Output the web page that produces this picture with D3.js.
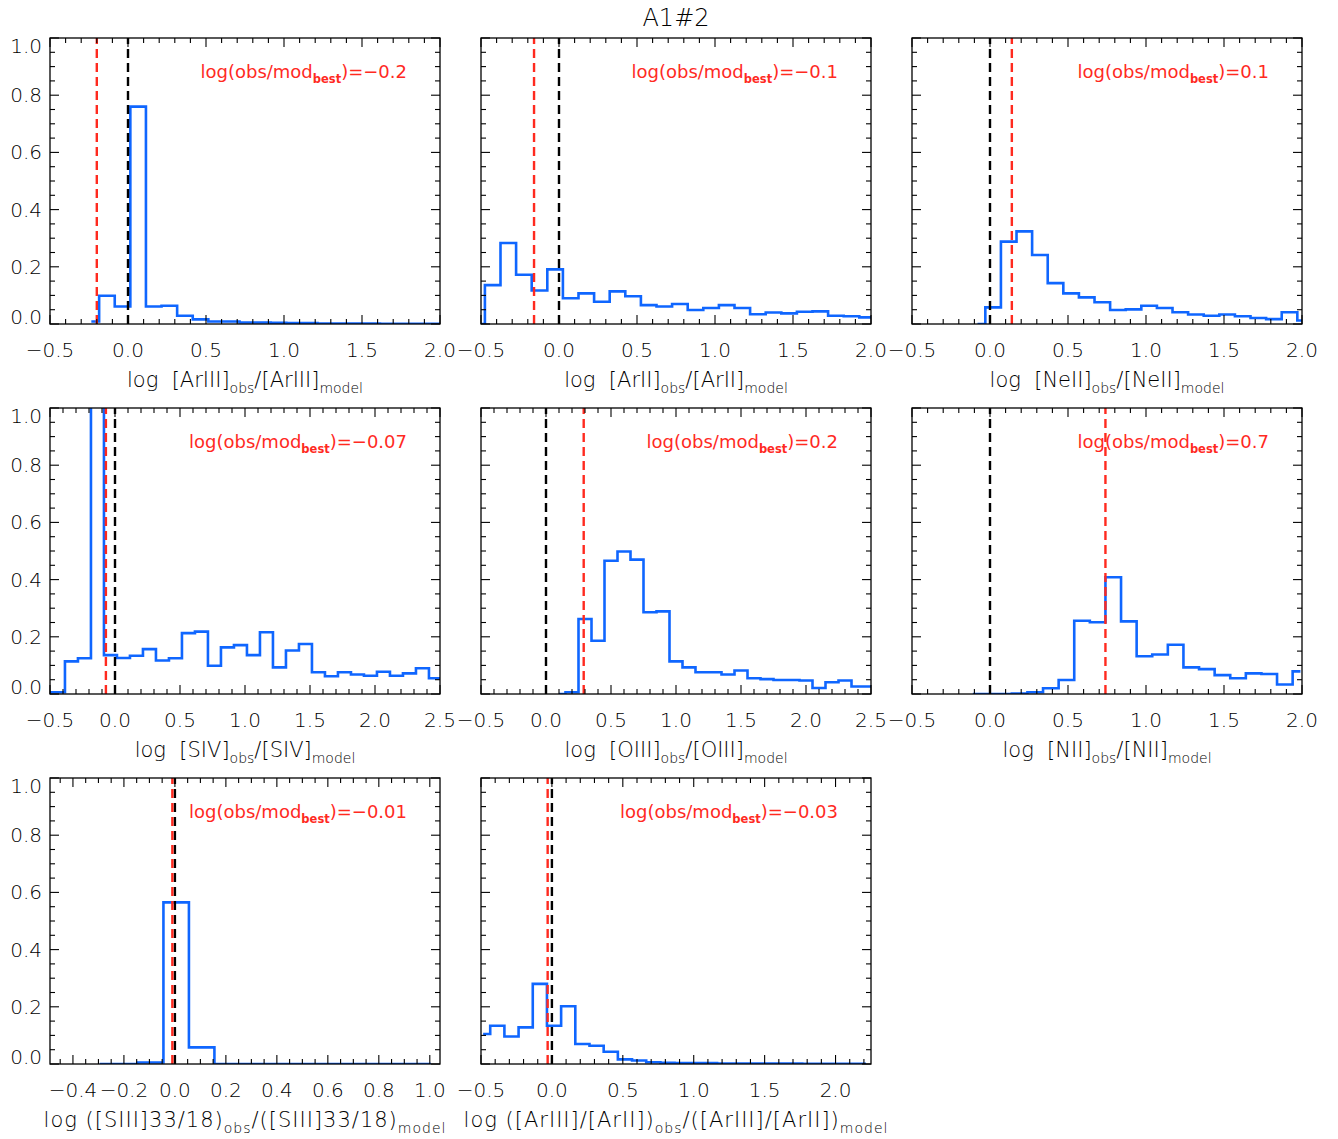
<!DOCTYPE html>
<html><head><meta charset="utf-8">
<script src="https://cdn.jsdelivr.net/npm/d3@7"></script>
<style>body{margin:0;background:#fff}</style>
</head><body><svg id="c" width="1338" height="1139"></svg>
<script>
// ---------------- data ----------------
const titleText = "A1#2";
const binWidth = 0.1;
const firstBinCentre = [-0.235, -0.525, -0.08, -0.535, 0.10, -0.11, -0.295, -0.485];

const histArIII = [0.009,0.099,0.061,0.760,0.061,0.064,0.029,0.016,0.009,0.009,0.005,0.005,0.004,0.003,0.003,0.002,0.002,0.002,0.002,0.001,0.001,0.001,0.001,0.001];
const histArII  = [0,0.136,0.283,0.172,0.117,0.191,0.090,0.107,0.078,0.114,0.097,0.066,0.061,0.070,0.049,0.056,0.066,0.056,0.034,0.040,0.037,0.043,0.044,0.029,0.027,0.023,0.023];
const histNeII  = [0,0.058,0.288,0.324,0.241,0.143,0.107,0.093,0.076,0.049,0.051,0.064,0.056,0.041,0.033,0.029,0.033,0.027,0.021,0.017,0.041,0.012];
const histSIV   = [0.006,0.006,0.114,0.125,1.4,0.136,0.126,0.134,0.157,0.117,0.125,0.213,0.218,0.099,0.163,0.171,0.136,0.216,0.093,0.152,0.175,0.076,0.062,0.076,0.068,0.064,0.078,0.064,0.072,0.090,0.055,0.055];
const histOIII  = [0,0.006,0.262,0.186,0.466,0.498,0.470,0.286,0.289,0.114,0.093,0.076,0.076,0.068,0.082,0.055,0.052,0.049,0.049,0.047,0.021,0.041,0.047,0.026,0.026];
const histNII   = [0,0,0,0.002,0.006,0.020,0.049,0.256,0.251,0.408,0.254,0.132,0.138,0.172,0.093,0.087,0.066,0.055,0.072,0.070,0.033,0.079];
const histSIII  = [0,0,0.005,0.565,0.058,0,0,0,0,0,0,0,0,0];
const histRatio = [0.105,0.134,0.096,0.128,0.280,0.134,0.202,0.070,0.064,0.043,0.016,0.012,0.006,0.004,0.003,0.003,0.003,0.002,0.002,0.002,0.002,0.002,0.002,0.001,0.001,0.001,0.001,0.001];
const histograms = [histArIII, histArII, histNeII, histSIV, histOIII, histNII, histSIII, histRatio];

const bestOffset = [-0.2, -0.16, 0.14, -0.07, 0.29, 0.74, -0.01, -0.03];
const bestLabel  = ["\u22120.2", "\u22120.1", "0.1", "\u22120.07", "0.2", "0.7", "\u22120.01", "\u22120.03"];

const xDomains = [[-0.5,2.0],[-0.5,2.0],[-0.5,2.0],[-0.5,2.5],[-0.5,2.5],[-0.5,2.0],[-0.49,1.04],[-0.5,2.25]];
const xMajorStep = [0.5,0.5,0.5,0.5,0.5,0.5,0.2,0.5];
const xMinorStep = [0.1,0.1,0.1,0.1,0.1,0.1,0.05,0.1];
const yTickValues = [0, 0.2, 0.4, 0.6, 0.8, 1.0];
const yMinorStep = 0.05;

const axisTitles = [
  [["log  [ArIII]",0],["obs",1],["/[ArIII]",0],["model",1]],
  [["log  [ArII]",0],["obs",1],["/[ArII]",0],["model",1]],
  [["log  [NeII]",0],["obs",1],["/[NeII]",0],["model",1]],
  [["log  [SIV]",0],["obs",1],["/[SIV]",0],["model",1]],
  [["log  [OIII]",0],["obs",1],["/[OIII]",0],["model",1]],
  [["log  [NII]",0],["obs",1],["/[NII]",0],["model",1]],
  [["log ([SIII]33/18)",0],["obs",1],["/([SIII]33/18)",0],["model",1]],
  [["log ([ArIII]/[ArII])",0],["obs",1],["/([ArIII]/[ArII])",0],["model",1]]
];
const titleSpacing = [0,0,0,0,0,0,1,1];

// ---------------- layout ----------------
const colX = [50, 481, 912];
const rowY = [38, 408, 778];
const PW = 390, PH = 286;
const BLUE = "#0f66ff", RED = "#ff2a1f";
const FONT = "'DejaVu Sans', 'Liberation Sans', sans-serif";

const svg = d3.select("#c");
svg.append("rect").attr("width",1338).attr("height",1139).attr("fill","#fff");

svg.append("text").attr("x", (colX[0] + colX[2] + PW) / 2).attr("y", 26)
  .attr("text-anchor","middle").attr("font-family",FONT).attr("font-size",24)
  .attr("font-weight",300).attr("fill","#000").text(titleText);

const fmtTick = d3.format(".1f");

function stepValues(domain, step) {
  const k0 = Math.ceil(domain[0]/step - 1e-6), k1 = Math.floor(domain[1]/step + 1e-6);
  return d3.range(k0, k1 + 1).map(k => +(k*step).toFixed(4));
}

histograms.forEach((hist, i) => {
  const col = i % 3, row = Math.floor(i / 3);
  const left = colX[col], top = rowY[row];
  const g = svg.append("g").attr("transform", `translate(${left},${top})`);
  const x = d3.scaleLinear().domain(xDomains[i]).range([0, PW]);
  const y = d3.scaleLinear().domain([0, 1]).range([PH, 0]);

  const clipId = "clip" + i;
  g.append("clipPath").attr("id", clipId).append("rect").attr("width", PW).attr("height", PH);
  const plot = g.append("g").attr("clip-path", `url(#${clipId})`);

  // histogram (IDL psym=10 style)
  const pts = hist.map((v, k) => [firstBinCentre[i] + k*binWidth, v]);
  const line = d3.line().x(d => x(d[0])).y(d => y(d[1])).curve(d3.curveStep);
  plot.append("path").attr("d", line(pts)).attr("fill","none")
    .attr("stroke", BLUE).attr("stroke-width", 2.6).attr("stroke-linejoin","miter");

  // reference lines
  plot.append("line").attr("x1", x(0)).attr("x2", x(0)).attr("y1", y(0)).attr("y2", y(1))
    .attr("stroke","#000").attr("stroke-width",2.4).attr("stroke-dasharray","9,5");
  plot.append("line").attr("x1", x(bestOffset[i])).attr("x2", x(bestOffset[i])).attr("y1", y(0)).attr("y2", y(1))
    .attr("stroke",RED).attr("stroke-width",2.4).attr("stroke-dasharray","9,5");

  // frame
  g.append("rect").attr("width", PW).attr("height", PH).attr("fill","none")
    .attr("stroke","#000").attr("stroke-width",1.3);

  // x ticks (bottom and top, inward)
  const xMinor = stepValues(xDomains[i], xMinorStep[i]);
  const xMajor = stepValues(xDomains[i], xMajorStep[i]);
  const isMajor = (v, s) => Math.abs(v/s - Math.round(v/s)) < 1e-6;
  xMinor.forEach(v => {
    const L = isMajor(v, xMajorStep[i]) ? 9 : 5;
    g.append("line").attr("x1", x(v)).attr("x2", x(v)).attr("y1", PH).attr("y2", PH - L).attr("stroke","#000").attr("stroke-width",1.1);
    g.append("line").attr("x1", x(v)).attr("x2", x(v)).attr("y1", 0).attr("y2", L).attr("stroke","#000").attr("stroke-width",1.1);
  });
  xMajor.forEach(v => {
    g.append("text").attr("x", x(v)).attr("y", PH + 33).attr("text-anchor","middle")
      .attr("font-family",FONT).attr("font-size",20).attr("font-weight",300).attr("fill","#000")
      .text(fmtTick(v));
  });

  // y ticks (left and right, inward)
  stepValues([0,1], yMinorStep).forEach(v => {
    const L = isMajor(v, 0.2) ? 9 : 5;
    g.append("line").attr("x1", 0).attr("x2", L).attr("y1", y(v)).attr("y2", y(v)).attr("stroke","#000").attr("stroke-width",1.1);
    g.append("line").attr("x1", PW).attr("x2", PW - L).attr("y1", y(v)).attr("y2", y(v)).attr("stroke","#000").attr("stroke-width",1.1);
  });
  if (col === 0) {
    yTickValues.forEach(v => {
      const yy = Math.min(Math.max(y(v), 8), PH - 7);
      g.append("text").attr("x", -8).attr("y", yy + 7).attr("text-anchor","end")
        .attr("font-family",FONT).attr("font-size",20).attr("font-weight",300).attr("fill","#000")
        .text(fmtTick(v));
    });
  }

  // axis title with subscripts
  const t = g.append("text").attr("x", PW/2).attr("y", PH + 63).attr("text-anchor","middle")
    .attr("font-family",FONT).attr("font-size",21).attr("font-weight",300).attr("fill","#000")
    .attr("letter-spacing", titleSpacing[i])
    .attr("xml:space","preserve").style("white-space","pre");
  let sub = false;
  axisTitles[i].forEach(([txt, s]) => {
    const ts = t.append("tspan").text(txt);
    if (s && !sub) { ts.attr("dy", 6).attr("font-size", 14); sub = true; }
    else if (s) { ts.attr("font-size", 14); }
    else if (!s && sub) { ts.attr("dy", -6); sub = false; }
  });

  // annotation
  const a = g.append("text").attr("x", 357).attr("y", 40).attr("text-anchor","end")
    .attr("font-family",FONT).attr("font-size",18).attr("font-weight",400).attr("fill",RED);
  a.append("tspan").text("log(obs/mod");
  a.append("tspan").attr("dy",5).attr("font-size",11.5).attr("font-weight","bold").text("best");
  a.append("tspan").attr("dy",-5).text(")=" + bestLabel[i]);
});
</script>
</body></html>
